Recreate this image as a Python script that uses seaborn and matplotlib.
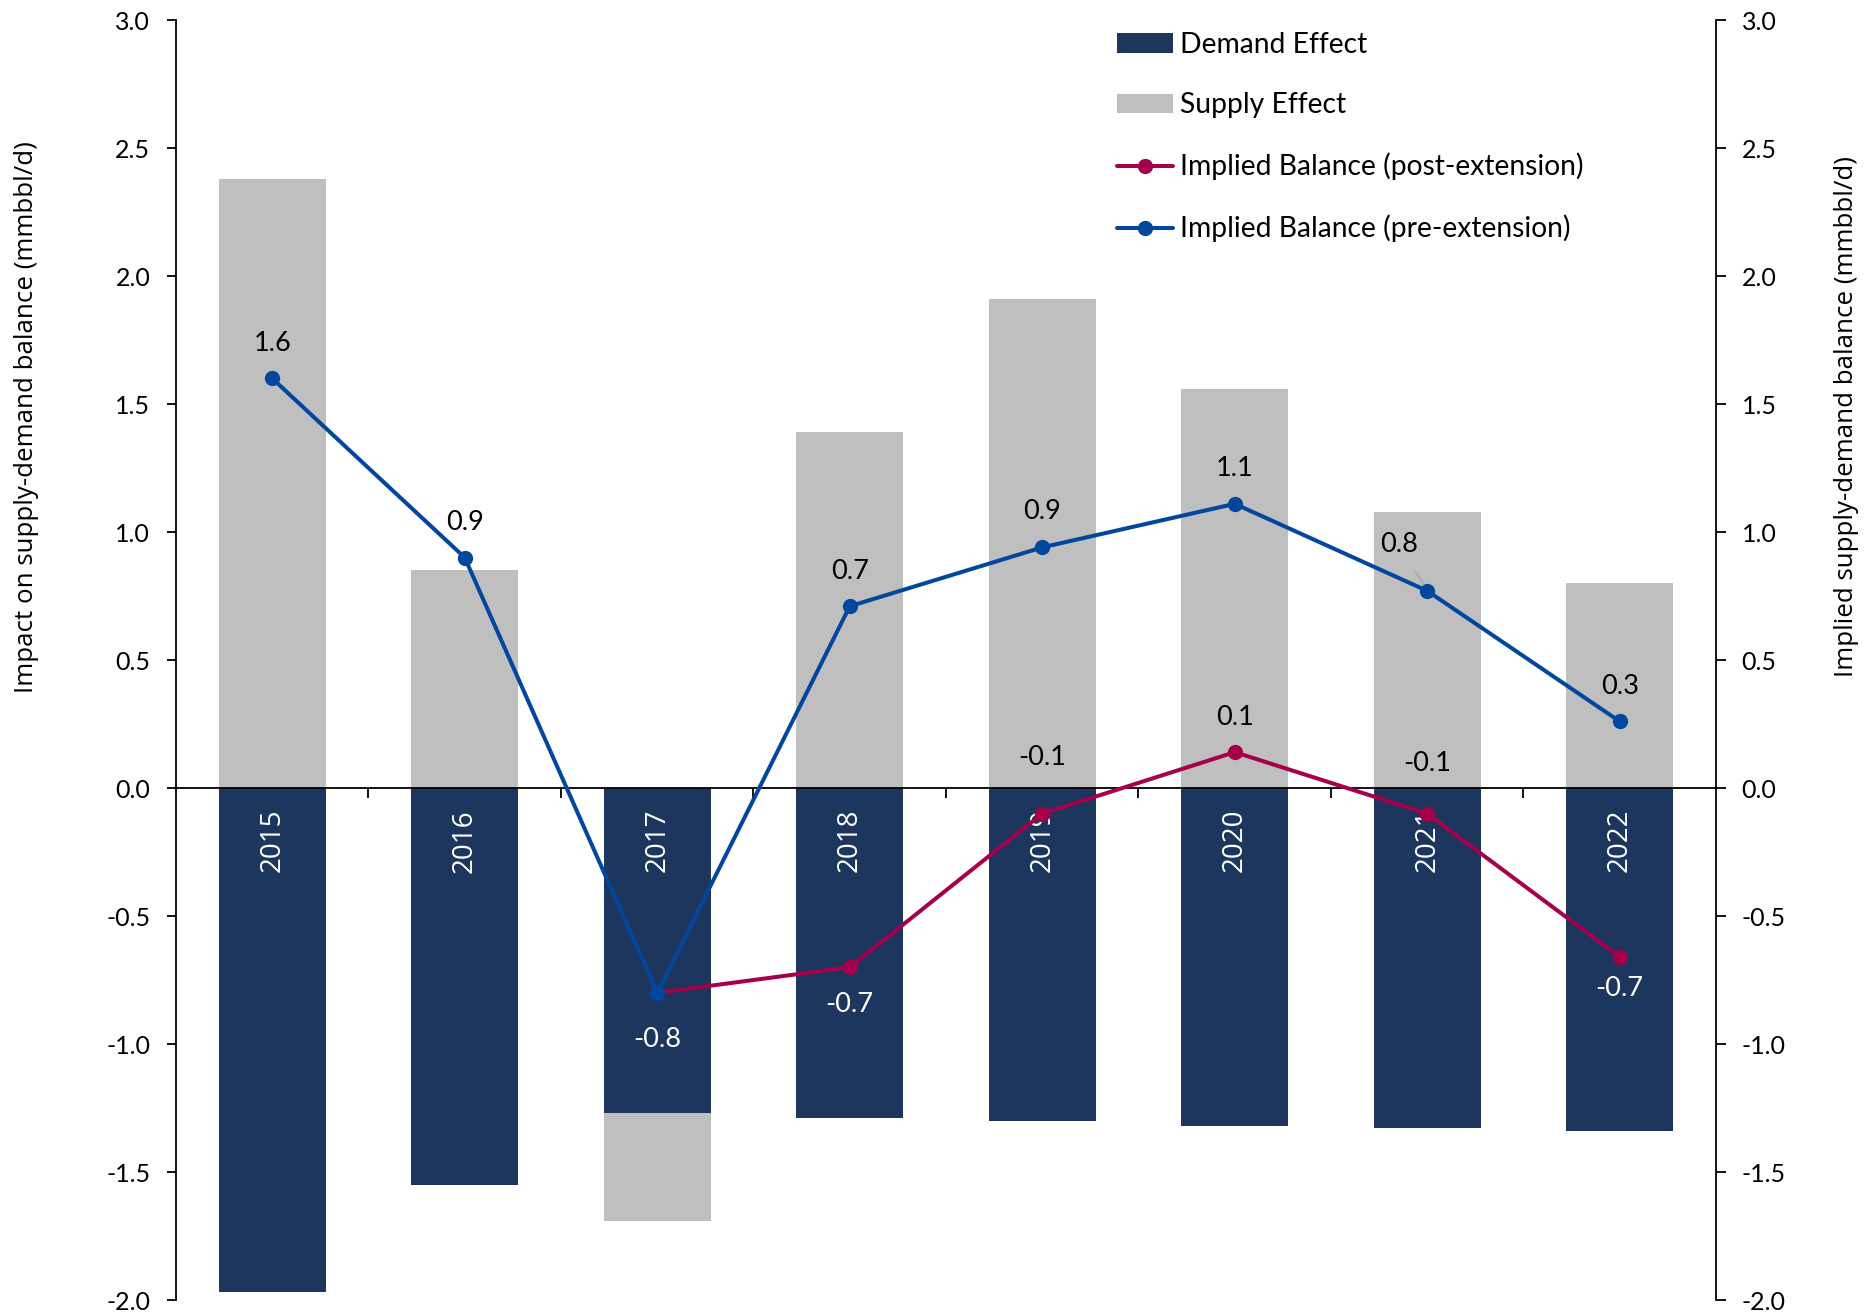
import numpy as np
import pandas as pd
import matplotlib
matplotlib.use("Agg")
import matplotlib.pyplot as plt
import seaborn as sns
from matplotlib.patches import Patch
from matplotlib.lines import Line2D
from matplotlib.ticker import FormatStrFormatter

# ---- data (mmbbl/d) ----
years = ["2015", "2016", "2017", "2018", "2019", "2020", "2021", "2022"]
demand_effect = [-1.97, -1.55, -1.27, -1.29, -1.30, -1.32, -1.33, -1.34]
supply_effect = [2.38, 0.85, -0.42, 1.39, 1.91, 1.56, 1.08, 0.80]
balance_pre = [1.60, 0.90, -0.80, 0.71, 0.94, 1.11, 0.77, 0.26]
balance_post = [np.nan, np.nan, -0.80, -0.70, -0.10, 0.14, -0.10, -0.66]

series_labels = ["Demand Effect", "Supply Effect",
                 "Implied Balance (post-extension)",
                 "Implied Balance (pre-extension)"]
left_title = "Impact on supply-demand balance (mmbbl/d)"
right_title = "Implied supply-demand balance (mmbbl/d)"

# ---- style ----
NAVY = "#1D365D"
GREY = "#BFBFBF"
CRIMSON = "#A5004A"
BLUE = "#00479D"
LEADER = "#A6A6A6"

sns.set_theme(style="white")
plt.rcParams["font.family"] = ["Lato", "DejaVu Sans"]
plt.rcParams["axes.unicode_minus"] = False

W, H = 1865, 1315
fig = plt.figure(figsize=(W / 100, H / 100), dpi=100)
ax = fig.add_axes([176 / W, 1 - 1300 / H, 1540 / W, 1280 / H])

# stacked bars: a negative supply effect sits beneath the demand bar
supply_end = [s if s >= 0 else d + s for d, s in zip(demand_effect, supply_effect)]
df = pd.DataFrame({"year": years, "demand": demand_effect, "supply_end": supply_end})

sns.barplot(data=df, x="year", y="supply_end", color=GREY, saturation=1,
            width=0.556, linewidth=0, ax=ax)
sns.barplot(data=df, x="year", y="demand", color=NAVY, saturation=1,
            width=0.556, linewidth=0, ax=ax)

ax.set_xlim(-0.5, len(years) - 0.5)
ax.set_ylim(-2.0, 3.0)
ax.set_yticks(np.arange(-2.0, 3.01, 0.5))
ax.yaxis.set_major_formatter(FormatStrFormatter("%.1f"))

# horizontal zero axis with ticks between categories
ax.spines["bottom"].set_position(("data", 0))
ax.spines["bottom"].set_color("black")
ax.spines["bottom"].set_linewidth(1.3)
ax.spines["left"].set_color("black")
ax.spines["left"].set_linewidth(1.3)
ax.spines["top"].set_visible(False)
ax.spines["right"].set_visible(False)
ax.set_xticks(np.arange(0.5, len(years) - 1, 1.0))
ax.set_xticklabels([])
ax.set_xlabel("")
ax.tick_params(axis="x", bottom=True, direction="out", length=7, width=1.3, color="black")
ax.tick_params(axis="y", left=True, direction="out", length=6.5, width=1.3,
               color="black", labelsize=18, pad=12, labelcolor="black")

ax.set_ylabel(left_title, fontsize=18.6, family=["Open Sans", "DejaVu Sans"], color="black")
ax.yaxis.set_label_coords(-0.0974, 0.69)
ax.yaxis.label.set_va("center")

# year labels inside the demand bars
for i, yr in enumerate(years):
    ax.annotate(yr, xy=(i, 0), xytext=(0, -21), textcoords="offset pixels",
                rotation=90, ha="center", va="top", color="white",
                fontsize=20, family=["Open Sans", "DejaVu Sans"])

# secondary axis for the implied balances
ax2 = ax.twinx()
ax2.set_ylim(-2.0, 3.0)
ax2.set_yticks(np.arange(-2.0, 3.01, 0.5))
ax2.yaxis.set_major_formatter(FormatStrFormatter("%.1f"))
for side in ["top", "bottom", "left"]:
    ax2.spines[side].set_visible(False)
ax2.spines["right"].set_color("black")
ax2.spines["right"].set_linewidth(1.3)
ax2.tick_params(axis="y", right=True, direction="out", length=7.5, width=1.3,
                color="black", labelsize=18, pad=11, labelcolor="black")
ax2.set_ylabel(right_title, fontsize=18.6, family=["Open Sans", "DejaVu Sans"],
               color="black", rotation=90)
ax2.yaxis.set_label_coords(1.085, 0.69)
ax2.yaxis.label.set_va("center")

pos = np.arange(len(years))
post = np.array(balance_post, dtype=float)
pre = np.array(balance_pre, dtype=float)
mask = ~np.isnan(post)

line_kw = dict(marker="o", markersize=11, linewidth=2.9, markeredgewidth=0)
sns.lineplot(x=pos[mask], y=post[mask], color=CRIMSON, ax=ax2, **line_kw)
sns.lineplot(x=pos, y=pre, color=BLUE, ax=ax2, **line_kw)
ax2.set_xlim(-0.5, len(years) - 0.5)

# value labels: (dx, dy) in pixels and text colour
pre_offsets = [(0, 35, "black"), (0, 35, "black"), (0, -47, "white"), (0, 35, "black"),
               (0, 36, "black"), (0, 35, "black"), (-28, 46, "black"), (0, 35, "black")]
post_offsets = [None, None, None, (0, -37, "white"), (0, 56, "black"),
                (0, 35, "black"), (0, 50, "black"), (0, -32, "white")]

LABEL_SIZE = 19.5
for i, v in enumerate(pre):
    dx, dy, c = pre_offsets[i]
    arrow = None
    if dx != 0:
        arrow = dict(arrowstyle="-", color=LEADER, lw=1.0, shrinkA=9, shrinkB=5)
    ax2.annotate(f"{v:.1f}", xy=(i, v), xytext=(dx, dy), textcoords="offset pixels",
                 ha="center", va="center", fontsize=LABEL_SIZE, color=c, arrowprops=arrow)

for i, v in enumerate(post):
    if post_offsets[i] is None or np.isnan(v):
        continue
    dx, dy, c = post_offsets[i]
    ax2.annotate(f"{v:.1f}", xy=(i, v), xytext=(dx, dy), textcoords="offset pixels",
                 ha="center", va="center", fontsize=LABEL_SIZE, color=c)

handles = [
    Patch(facecolor=NAVY, edgecolor="none"),
    Patch(facecolor=GREY, edgecolor="none"),
    Line2D([], [], color=CRIMSON, **line_kw),
    Line2D([], [], color=BLUE, **line_kw),
]
fig.legend(handles, series_labels, loc="upper left",
           bbox_to_anchor=(1117 / W, 1 - 32 / H), frameon=False, fontsize=20.3,
           handlelength=2.0, handletextpad=0.25, labelspacing=1.22,
           borderaxespad=0, borderpad=0, labelcolor="black")

fig.savefig("out.png", dpi=100)
